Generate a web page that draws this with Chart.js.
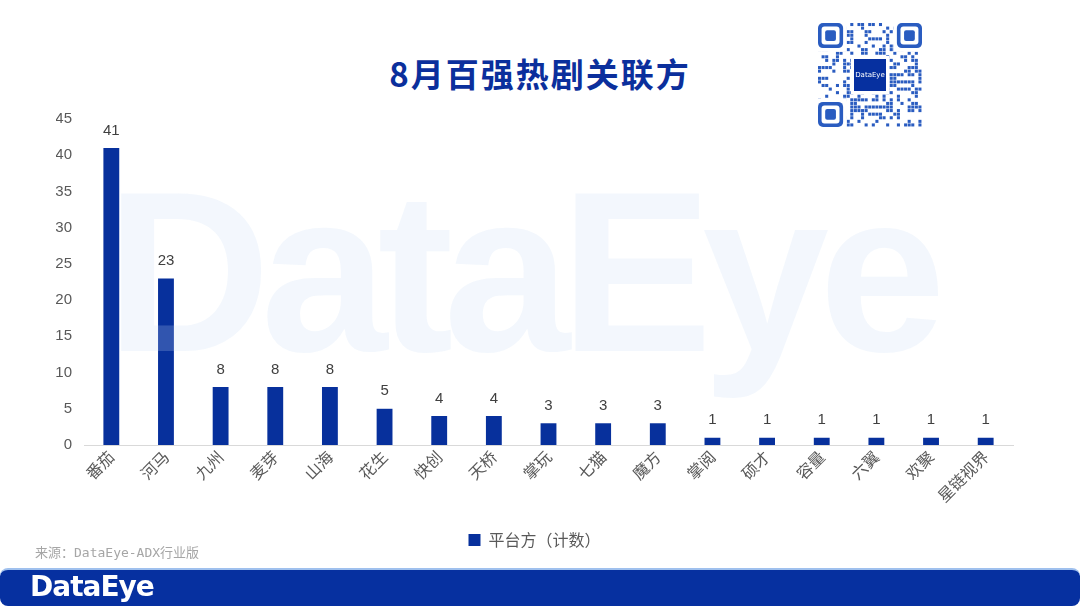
<!DOCTYPE html>
<html lang="zh">
<head>
  <meta charset="UTF-8">
  <title>8月百强热剧关联方</title>
  <script src="https://cdn.jsdelivr.net/npm/chart.js"></script>
  <style>
    body {
      margin: 0;
      width: 1080px;
      height: 608px;
      overflow: hidden;
      background: #fff;
      font-family: "Noto Sans CJK SC", "Noto Sans", sans-serif;
      position: relative;
    }
    #title {
      position: absolute;
      left: 0;
      width: 1080px;
      top: 49px;
      text-align: center;
      font-size: 33px;
      font-weight: bold;
      color: #0b2f9c;
      letter-spacing: 2px;
      line-height: 48px;
    }
    #watermark {
      position: absolute;
      left: 106px;
      top: 142px;
      font-family: "Liberation Sans", Arial, sans-serif;
      font-size: 228px;
      font-weight: bold;
      color: rgb(200, 220, 245);
      opacity: 0.22;
      letter-spacing: -10px;
      white-space: nowrap;
    }
    #wrap {
      position: absolute;
      left: 0;
      top: 0;
      width: 1080px;
      height: 558px;
    }
    #source {
      position: absolute;
      left: 35px;
      top: 542px;
      font-family: "DejaVu Sans Mono", "Noto Sans CJK SC", monospace;
      font-size: 13px;
      color: #a6a6a6;
    }
    #footer {
      position: absolute;
      left: 0;
      top: 568px;
      width: 1080px;
      height: 38px;
      background: #0630a0;
      border-top: 2px solid #9fc0ee;
      border-radius: 8px;
      box-sizing: border-box;
    }
    #logo {
      position: absolute;
      left: 30px;
      top: 0px;
      font-family: "DejaVu Sans", sans-serif;
      font-size: 28px;
      font-weight: bold;
      color: #fff;
      letter-spacing: -1px;
    }
    #qr {
      position: absolute;
      left: 818px;
      top: 23px;
    }
  </style>
</head>
<body>
  <div id="title">8月百强热剧关联方</div>
  <canvas id="qr" width="104" height="104"></canvas>
  <div id="wrap"><canvas id="chart" width="1080" height="558"></canvas></div>
  <div id="watermark">DataEye</div>
  <div id="source">来源：DataEye-ADX行业版</div>
  <div id="footer"><div id="logo">DataEye</div></div>

  <script>
    const categories = ["番茄", "河马", "九州", "麦芽", "山海", "花生", "快创", "天桥", "掌玩", "七猫", "魔方", "掌阅", "硕才", "容量", "六翼", "欢聚", "星链视界"];
    const platformCounts = [41, 23, 8, 8, 8, 5, 4, 4, 3, 3, 3, 1, 1, 1, 1, 1, 1];
    const seriesLabel = "平台方（计数）";
    const yTicks = [0, 5, 10, 15, 20, 25, 30, 35, 40, 45];

    const barBlue = "#07309c";
    const textGray = "#595959";

    // simple QR-like decoration
    (function drawQr() {
      const c = document.getElementById("qr").getContext("2d");
      const n = 29, s = 104 / n;
      c.fillStyle = "#fff";
      c.fillRect(0, 0, 104, 104);
      c.fillStyle = "#2a5cc0";
      let seed = 7;
      for (let i = 0; i < n; i++) {
        for (let j = 0; j < n; j++) {
          seed = (seed * 1103515245 + 12345) & 0x7fffffff;
          if ((seed >> 16) % 5 < 2) c.fillRect(j * s, i * s, s * 0.85, s * 0.85);
        }
      }
      function finder(x, y) {
        c.fillStyle = "#fff";
        c.fillRect(x - s, y - s, s * 9, s * 9);
        c.fillStyle = "#2a5cc0";
        c.beginPath(); c.roundRect(x, y, s * 7, s * 7, 5); c.fill();
        c.fillStyle = "#fff";
        c.beginPath(); c.roundRect(x + s, y + s, s * 5, s * 5, 3); c.fill();
        c.fillStyle = "#2a5cc0";
        c.beginPath(); c.roundRect(x + s * 2, y + s * 2, s * 3, s * 3, 2); c.fill();
      }
      finder(0, 0); finder(104 - 7 * s, 0); finder(0, 104 - 7 * s);
      c.fillStyle = "#fff";
      c.fillRect(33, 33, 38, 38);
      c.fillStyle = "#0630a0";
      c.fillRect(36, 36, 32, 32);
      c.fillStyle = "#fff";
      c.font = "7px 'DejaVu Sans'";
      c.textAlign = "center";
      c.textBaseline = "middle";
      c.fillText("DataEye", 52, 52);
    })();

    const valueLabels = {
      id: "valueLabels",
      afterDatasetsDraw(chart) {
        const ctx = chart.ctx;
        const meta = chart.getDatasetMeta(0);
        ctx.save();
        ctx.font = "15px 'Liberation Sans', Arial, sans-serif";
        ctx.fillStyle = "#404040";
        ctx.textAlign = "center";
        ctx.textBaseline = "bottom";
        meta.data.forEach((bar, i) => {
          ctx.fillText(platformCounts[i], bar.x, bar.y - 10);
        });
        ctx.restore();
      }
    };

    new Chart(document.getElementById("chart"), {
      type: "bar",
      data: {
        labels: categories,
        datasets: [{
          label: seriesLabel,
          data: platformCounts,
          backgroundColor: barBlue,
          barPercentage: 0.29,
          categoryPercentage: 1.0
        }]
      },
      options: {
        responsive: false,
        animation: false,
        layout: { padding: { left: 56, right: 67, top: 119, bottom: 0 } },
        plugins: {
          tooltip: { enabled: false },
          legend: {
            position: "bottom",
            labels: {
              color: textGray,
              font: { size: 16, family: "'Noto Sans CJK SC', sans-serif" },
              boxWidth: 12,
              boxHeight: 12,
              padding: 8
            }
          }
        },
        scales: {
          x: {
            grid: { display: false, drawTicks: false },
            border: { display: true, color: "#d9d9d9" },
            ticks: {
              color: textGray,
              font: { size: 16, family: "'Noto Sans CJK SC', sans-serif" },
              maxRotation: 45,
              minRotation: 45,
              padding: 2
            },
            afterFit(scale) { scale.height = 79; }
          },
          y: {
            min: 0,
            max: 45,
            afterBuildTicks(scale) { scale.ticks = yTicks.map(v => ({ value: v })); },
            grid: { display: false, drawTicks: false },
            border: { display: false },
            ticks: {
              color: textGray,
              font: { size: 15, family: "'Liberation Sans', Arial, sans-serif" },
              padding: 12
            },
            afterFit(scale) { scale.width = 28; }
          }
        }
      },
      plugins: [valueLabels]
    });
  </script>
</body>
</html>
